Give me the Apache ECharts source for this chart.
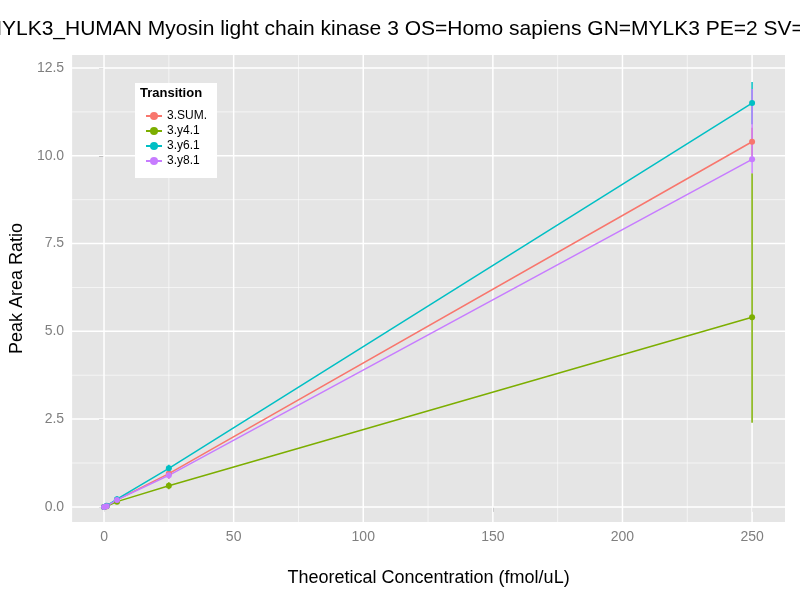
<!DOCTYPE html><html><head><meta charset="utf-8"><script src="https://cdn.jsdelivr.net/npm/echarts@6/dist/echarts.min.js"></script>
<style>body{margin:0}#c{width:800px;height:600px}</style></head><body><div id="c"></div><script>
const xs=[0,1,5,25,250];
const names=['3.SUM.','3.y4.1','3.y6.1','3.y8.1'];
const colors=['#F8766D','#7CAE00','#00BFC4','#C77CFF'];
const sumV=[0,0.02,0.2,0.95,10.4];
const y41=[0,0.02,0.15,0.6,5.4];
const y61=[0,0.03,0.22,1.1,11.5];
const y81=[0,0.02,0.2,0.9,9.9];
const vals=[sumV,y41,y61,y81];
const errLo={'3.SUM.':[[25,0.8],[250,10.0]],'3.y4.1':[[25,0.5],[250,2.4]],'3.y6.1':[[5,0.15],[25,1.0],[250,10.9]],'3.y8.1':[[25,0.8],[250,9.5]]};
const errHi={'3.SUM.':[[25,1.1],[250,10.8]],'3.y4.1':[[25,0.7],[250,9.5]],'3.y6.1':[[5,0.3],[25,1.2],[250,12.1]],'3.y8.1':[[25,1.0],[250,11.9]]};
const series=[];
names.forEach((n,i)=>{
 series.push({type:'line',name:n,z:3,data:xs.map((x,j)=>[x,vals[i][j]]),symbol:'circle',symbolSize:6,
  itemStyle:{color:colors[i]},lineStyle:{color:colors[i],width:1.5}});
});
names.forEach((n,i)=>{
 series.push({type:'custom',name:n+' err',z:2,data:errLo[n].map((p,j)=>[p[0],p[1],errHi[n][j][1]]),
  renderItem:(pa,api)=>{const a=api.coord([api.value(0),api.value(1)]),b=api.coord([api.value(0),api.value(2)]);
   return {type:'line',shape:{x1:a[0],y1:a[1],x2:b[0],y2:b[1]},style:{stroke:colors[i],lineWidth:1.5}};},
  silent:true});
});
const c=echarts.init(document.getElementById('c'));
c.setOption({backgroundColor:'#fff',animation:false,
 title:{text:'MYLK3_HUMAN Myosin light chain kinase 3 OS=Homo sapiens GN=MYLK3 PE=2 SV=1',left:'center',top:14,textStyle:{fontSize:21,fontWeight:'normal',color:'#000',fontFamily:'Liberation Sans'}},
 grid:{left:70,right:15,top:55,bottom:78,backgroundColor:'#E5E5E5',show:true,borderWidth:0},
 xAxis:{type:'value',min:-12.3,max:262.7,name:'Theoretical Concentration (fmol/uL)',nameLocation:'middle',nameGap:47,
  nameTextStyle:{fontSize:18,color:'#000',fontFamily:'Liberation Sans'},
  axisLabel:{color:'#7F7F7F',fontSize:14,customValues:[0,50,100,150,200,250],formatter:v=>v},
  axisTick:{customValues:[0,50,100,150,200,250],lineStyle:{color:'#7F7F7F'}},axisLine:{show:false},
  splitLine:{show:false}},
 yAxis:{type:'value',min:-0.43,max:12.87,name:'Peak Area Ratio',nameLocation:'middle',nameGap:45,
  nameTextStyle:{fontSize:18,color:'#000',fontFamily:'Liberation Sans'},
  axisLabel:{color:'#7F7F7F',fontSize:14,customValues:[0,2.5,5,7.5,10,12.5],formatter:v=>v.toFixed(1)},
  axisTick:{customValues:[0,2.5,5,7.5,10,12.5],lineStyle:{color:'#7F7F7F'}},axisLine:{show:false},splitLine:{show:false}},
 graphic:[{type:'rect',shape:{x:135,y:83,width:82,height:95},style:{fill:'#fff'},z:10},
  {type:'text',left:140,top:87,style:{text:'Transition',font:'bold 13px Liberation Sans',fill:'#000'},z:11}],
 legend:{data:names,left:140,top:105,orient:'vertical',itemGap:3,itemWidth:16,itemHeight:10,z:12,
  textStyle:{fontSize:12,color:'#000',fontFamily:'Liberation Sans'}},
 series:series.concat([
  {type:'custom',silent:true,z:1,data:[0],renderItem:(pa,api)=>{
   const ch=[];
   [0,25,50,75,100,125,150,175,200,225,250].forEach(v=>{const p=api.coord([v,0]);ch.push({type:'line',shape:{x1:p[0],y1:55,x2:p[0],y2:522},style:{stroke:'#fff',lineWidth:v%50==0?1.5:0.6}});});
   [0,1.25,2.5,3.75,5,6.25,7.5,8.75,10,11.25,12.5].forEach(v=>{const p=api.coord([0,v]);ch.push({type:'line',shape:{x1:70,y1:p[1],x2:785,y2:p[1]},style:{stroke:'#fff',lineWidth:(v*4)%10==0?1.5:0.6}});});
   return {type:'group',children:ch};}}
 ])});
</script></body></html>
